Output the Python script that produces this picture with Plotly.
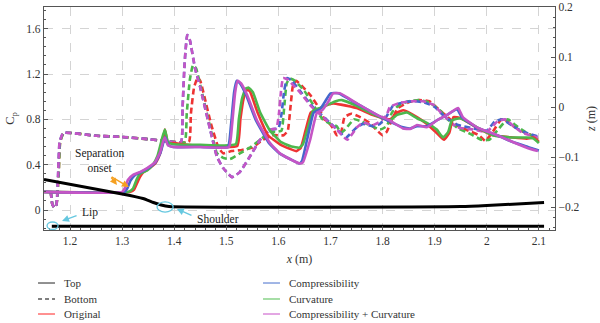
import plotly.graph_objects as go

# ---------------- data ----------------
# Cp distributions (left axis). Solid = top surface, dashed = bottom surface
orig_top_x = [1.150,1.316,1.323,1.329,1.334,1.340,1.353,1.365,1.373,1.378,1.382,1.388,1.398,1.45,1.521,1.527,1.533,1.539,1.545,1.560,1.580,1.603,1.622,1.635,1.643,1.652,1.662,1.672,1.690,1.705,1.720,1.75,1.78,1.814,1.828,1.840,1.866,1.885,1.904,1.918,1.928,1.936,1.95,1.98,2.012,2.05,2.077,2.09,2.10]
orig_top_y = [0.16,0.16,0.18,0.24,0.29,0.33,0.37,0.42,0.50,0.60,0.71,0.59,0.59,0.565,0.565,0.80,0.98,1.06,1.05,0.86,0.66,0.58,0.54,0.52,0.55,0.70,0.86,0.88,0.92,0.94,0.93,0.90,0.84,0.80,0.86,0.88,0.82,0.76,0.68,0.62,0.68,0.82,0.81,0.73,0.66,0.64,0.63,0.64,0.60]

curv_top_x = [1.150,1.312,1.321,1.328,1.334,1.348,1.359,1.368,1.376,1.382,1.388,1.398,1.45,1.518,1.524,1.530,1.537,1.543,1.551,1.565,1.584,1.605,1.625,1.640,1.647,1.657,1.667,1.680,1.695,1.710,1.722,1.75,1.78,1.814,1.828,1.847,1.866,1.885,1.904,1.916,1.926,1.933,1.949,1.981,2.012,2.050,2.077,2.090,2.100]
curv_top_y = [0.16,0.16,0.19,0.27,0.32,0.35,0.40,0.48,0.62,0.71,0.60,0.58,0.575,0.58,0.80,0.98,1.07,1.08,1.04,0.86,0.70,0.60,0.56,0.55,0.58,0.73,0.88,0.90,0.93,0.96,0.97,0.92,0.85,0.79,0.84,0.86,0.81,0.77,0.71,0.64,0.69,0.79,0.81,0.73,0.66,0.64,0.64,0.63,0.59]

comp_top_x = [1.150,1.305,1.310,1.316,1.325,1.336,1.350,1.364,1.374,1.380,1.383,1.389,1.398,1.45,1.503,1.509,1.515,1.520,1.526,1.538,1.557,1.582,1.602,1.622,1.640,1.645,1.655,1.668,1.680,1.690,1.700,1.715,1.75,1.789,1.814,1.839,1.853,1.866,1.885,1.904,1.924,1.943,1.952,1.98,2.02,2.05,2.08,2.10]
comp_top_y = [0.16,0.16,0.19,0.26,0.31,0.335,0.37,0.42,0.51,0.61,0.64,0.57,0.556,0.556,0.556,0.75,1.04,1.14,1.12,1.015,0.79,0.59,0.50,0.45,0.41,0.43,0.62,0.86,0.89,0.96,1.03,1.03,0.94,0.84,0.78,0.73,0.72,0.74,0.74,0.79,0.84,0.89,0.82,0.73,0.66,0.60,0.555,0.525]

cc_top_x = [1.150,1.300,1.306,1.311,1.321,1.334,1.348,1.363,1.373,1.379,1.382,1.388,1.398,1.45,1.505,1.511,1.517,1.522,1.528,1.540,1.559,1.584,1.603,1.622,1.641,1.647,1.661,1.674,1.684,1.695,1.705,1.718,1.751,1.789,1.814,1.839,1.853,1.866,1.885,1.904,1.924,1.945,1.954,1.981,2.020,2.050,2.077,2.098]
cc_top_y = [0.16,0.16,0.20,0.265,0.31,0.335,0.37,0.42,0.51,0.61,0.64,0.57,0.556,0.556,0.556,0.75,1.04,1.14,1.12,1.015,0.79,0.59,0.50,0.45,0.41,0.42,0.62,0.86,0.88,0.95,1.03,1.03,0.94,0.84,0.79,0.72,0.715,0.75,0.73,0.79,0.84,0.90,0.82,0.73,0.66,0.60,0.55,0.52]

orig_bot_x = [1.163,1.166,1.170,1.174,1.178,1.181,1.188,1.25,1.30,1.35,1.38,1.428,1.432,1.438,1.445,1.450,1.458,1.470,1.485,1.494,1.510,1.530,1.550,1.570,1.590,1.610,1.618,1.623,1.628,1.634,1.644,1.662,1.678,1.688,1.695,1.705,1.712,1.720,1.727,1.740,1.757,1.775,1.790,1.800,1.808,1.818,1.830,1.850,1.870,1.890,1.910,1.925,1.945,1.965,1.985,1.997,2.010,2.030,2.045,2.065,2.085,2.098]
orig_bot_y = [0.16,0.05,0.02,0.05,0.30,0.60,0.68,0.655,0.645,0.625,0.61,0.60,0.85,1.08,1.17,1.14,1.00,0.77,0.55,0.50,0.52,0.53,0.55,0.62,0.66,0.66,0.70,0.90,1.10,1.14,1.10,1.01,0.90,0.80,0.78,0.72,0.66,0.68,0.82,0.85,0.82,0.77,0.70,0.66,0.69,0.80,0.90,0.95,0.97,0.96,0.88,0.82,0.74,0.70,0.66,0.61,0.68,0.81,0.76,0.70,0.66,0.62]

curv_bot_x = [1.163,1.166,1.170,1.174,1.178,1.181,1.188,1.25,1.30,1.35,1.38,1.420,1.424,1.430,1.436,1.442,1.452,1.468,1.482,1.494,1.507,1.526,1.545,1.565,1.584,1.597,1.606,1.611,1.616,1.622,1.632,1.650,1.668,1.685,1.700,1.712,1.720,1.730,1.745,1.760,1.780,1.795,1.808,1.818,1.830,1.850,1.870,1.890,1.910,1.925,1.945,1.965,1.990,2.005,2.020,2.040,2.055,2.070,2.085,2.098]
curv_bot_y = [0.16,0.05,0.02,0.05,0.30,0.60,0.68,0.655,0.645,0.625,0.61,0.60,0.85,1.15,1.28,1.25,1.06,0.75,0.50,0.46,0.45,0.50,0.55,0.62,0.69,0.69,0.70,0.90,1.12,1.16,1.14,1.05,0.92,0.80,0.76,0.74,0.68,0.72,0.80,0.78,0.74,0.71,0.74,0.86,0.92,0.96,0.97,0.95,0.88,0.80,0.72,0.68,0.62,0.62,0.70,0.80,0.75,0.70,0.66,0.63]

comp_bot_x = [1.163,1.166,1.170,1.174,1.177,1.180,1.187,1.25,1.30,1.35,1.38,1.413,1.416,1.420,1.425,1.430,1.440,1.4495,1.469,1.482,1.494,1.511,1.526,1.545,1.565,1.584,1.600,1.606,1.611,1.617,1.626,1.645,1.668,1.690,1.715,1.730,1.748,1.762,1.782,1.795,1.808,1.820,1.840,1.860,1.880,1.900,1.920,1.945,1.975,2.000,2.015,2.030,2.050,2.070,2.098]
comp_bot_y = [0.16,0.05,0.02,0.05,0.30,0.60,0.68,0.655,0.645,0.625,0.61,0.60,0.90,1.30,1.545,1.50,1.25,1.09,0.71,0.47,0.37,0.29,0.335,0.47,0.62,0.71,0.72,0.85,1.05,1.165,1.14,1.03,0.90,0.81,0.70,0.64,0.72,0.76,0.74,0.76,0.83,0.92,0.95,0.96,0.95,0.91,0.82,0.75,0.72,0.70,0.78,0.80,0.74,0.69,0.65]

cc_bot_x = [1.163,1.166,1.170,1.174,1.177,1.180,1.187,1.25,1.30,1.35,1.38,1.413,1.416,1.420,1.425,1.430,1.440,1.4495,1.469,1.482,1.494,1.511,1.526,1.545,1.565,1.584,1.596,1.601,1.605,1.609,1.618,1.641,1.664,1.686,1.712,1.732,1.751,1.762,1.782,1.795,1.808,1.814,1.833,1.855,1.878,1.897,1.916,1.943,1.974,2.000,2.020,2.035,2.054,2.069,2.098]
cc_bot_y = [0.16,0.05,0.02,0.05,0.30,0.60,0.68,0.655,0.645,0.625,0.61,0.60,0.90,1.30,1.545,1.50,1.25,1.09,0.71,0.47,0.37,0.29,0.335,0.47,0.62,0.71,0.72,0.85,1.05,1.165,1.15,1.04,0.91,0.82,0.71,0.62,0.73,0.77,0.75,0.78,0.84,0.91,0.945,0.96,0.96,0.93,0.84,0.73,0.71,0.69,0.78,0.80,0.73,0.68,0.64]

# Geometry (right axis, z in m)
geom_top_x = [1.150,1.300,1.340,1.360,1.375,1.390,1.950,2.000,2.110]
geom_top_z = [-0.145,-0.174,-0.183,-0.191,-0.196,-0.199,-0.199,-0.197,-0.191]
geom_bot_x = [1.165,2.110]
geom_bot_z = [-0.2385,-0.2385]

x_ticks = [1.2,1.3,1.4,1.5,1.6,1.7,1.8,1.9,2.0,2.1]
x_ticklabels = ["1.2","1.3","1.4","1.5","1.6","1.7","1.8","1.9","2","2.1"]
cp_ticks = [0,0.4,0.8,1.2,1.6]
cp_ticklabels = ["0","0.4","0.8","1.2","1.6"]
z_ticks = [-0.2,-0.1,0,0.1,0.2]
z_ticklabels = ["\u22120.2","\u22120.1","0","0.1","0.2"]

legend_col1 = ["Top", "Bottom", "Original"]
legend_col2 = ["Compressibility", "Curvature", "Compressibility + Curvature"]

# ---------------- style ----------------
RED = "#ee3333"
GREEN = "#4cb84c"
BLUE = "#4466cc"
MAG = "#c555c5"
CYAN = "#66c8e0"
ORANGE = "#f5a020"
FONT = "Liberation Serif"
DASH = "6px,3.5px"
LW = 2.6

fig = go.Figure()

series = [
    (orig_bot_x, orig_bot_y, RED, DASH),
    (curv_bot_x, curv_bot_y, GREEN, DASH),
    (comp_bot_x, comp_bot_y, BLUE, DASH),
    (cc_bot_x, cc_bot_y, MAG, DASH),
    (orig_top_x, orig_top_y, RED, "solid"),
    (curv_top_x, curv_top_y, GREEN, "solid"),
    (comp_top_x, comp_top_y, BLUE, "solid"),
    (cc_top_x, cc_top_y, MAG, "solid"),
]
for xs, ys, col, dash in series:
    fig.add_trace(go.Scatter(x=xs, y=ys, mode="lines", showlegend=False,
                             line=dict(color=col, width=LW, dash=dash, shape="spline", smoothing=0.4),
                             hoverinfo="skip"))

fig.add_trace(go.Scatter(x=geom_top_x, y=geom_top_z, yaxis="y2", mode="lines", showlegend=False,
                         line=dict(color="black", width=3, shape="spline", smoothing=0.5)))
fig.add_trace(go.Scatter(x=geom_bot_x, y=geom_bot_z, yaxis="y2", mode="lines", showlegend=False,
                         line=dict(color="black", width=3)))

axis_font = dict(family=FONT, size=11.5, color="#333333")

fig.update_layout(
    width=600, height=323, autosize=False,
    margin=dict(l=44, r=45, t=7, b=93, autoexpand=False),
    paper_bgcolor="white", plot_bgcolor="white",
    font=dict(family=FONT, color="#333333"),
    showlegend=False,
    xaxis=dict(range=[1.15, 2.131], tickvals=x_ticks, ticktext=x_ticklabels, automargin=False,
               ticks="inside", ticklen=4, tickcolor="#555", tickfont=axis_font,
               showline=True, linecolor="#555", linewidth=1.2, mirror=True,
               showgrid=True, gridcolor="#d4d4d4", griddash="dash", gridwidth=1, zeroline=False,
               minor=dict(dtick=0.02, tick0=1.2, ticks="inside", ticklen=2, tickcolor="#555", showgrid=False),
               title=dict(text="<i>x</i> (m)", font=dict(family=FONT, size=12, color="#333"), standoff=8)),
    yaxis=dict(range=[-0.1765, 1.7917], tickvals=cp_ticks, ticktext=cp_ticklabels, automargin=False,
               ticks="inside", ticklen=4, tickcolor="#555", tickfont=axis_font,
               showline=True, linecolor="#555", linewidth=1.2, mirror=True,
               showgrid=True, gridcolor="#d4d4d4", griddash="dash", gridwidth=1, zeroline=False,
               minor=dict(dtick=0.08, tick0=0, ticks="inside", ticklen=2, tickcolor="#555", showgrid=False),
               title=dict(text="C<sub>p</sub>", font=dict(family=FONT, size=12.5, color="#333"), standoff=8)),
    yaxis2=dict(range=[-0.246, 0.2], overlaying="y", side="right", tickvals=z_ticks, ticktext=z_ticklabels,
                automargin=False,
                ticks="inside", ticklen=4, tickcolor="#555", tickfont=axis_font,
                showline=True, linecolor="#555", linewidth=1.2, showgrid=False, zeroline=False,
                minor=dict(dtick=0.02, tick0=0, ticks="inside", ticklen=2, tickcolor="#555", showgrid=False),
                title=dict(text="<i>z</i> (m)", font=dict(family=FONT, size=12, color="#333"), standoff=8)),
)

# annotations
tfont = dict(family=FONT, size=11.5, color="#222222")
fig.add_annotation(x=1.2557, y=0.441, xref="x", yref="y", text="Separation<br>onset",
                   showarrow=False, font=tfont, align="center")
for hx, hy in [(1.290, 0.22), (1.313, 0.203)]:
    fig.add_annotation(x=hx, y=hy, ax=1.277, ay=0.30, xref="x", yref="y", axref="x", ayref="y",
                       text="", showarrow=True, arrowhead=2, arrowsize=1, arrowwidth=1.4, arrowcolor=ORANGE)
fig.add_annotation(x=1.219, y=-0.026, xref="x", yref="y", text="Lip", showarrow=False,
                   font=tfont, xanchor="left")
fig.add_annotation(x=1.1846, y=-0.097, ax=1.2154, ay=-0.044, xref="x", yref="y", axref="x", ayref="y",
                   text="", showarrow=True, arrowhead=2, arrowsize=1, arrowwidth=1.4, arrowcolor=CYAN)
fig.add_annotation(x=1.440, y=-0.075, xref="x", yref="y", text="Shoulder", showarrow=False,
                   font=tfont, xanchor="left")
fig.add_annotation(x=1.405, y=0.009, ax=1.436, ay=-0.053, xref="x", yref="y", axref="x", ayref="y",
                   text="", showarrow=True, arrowhead=2, arrowsize=1, arrowwidth=1.4, arrowcolor=CYAN)
fig.add_shape(type="circle", xref="x", yref="y", x0=1.1559, x1=1.177, y0=-0.172, y1=-0.106,
              line=dict(color=CYAN, width=1.3))
fig.add_shape(type="circle", xref="x", yref="y", x0=1.367, x1=1.398, y0=-0.018, y1=0.071,
              line=dict(color=CYAN, width=1.3))

# manual two-column legend (paper coordinates)
leg_font = dict(family=FONT, size=11, color="#333333")
row_y = [-0.2377, -0.3094, -0.3767]
col1_style = [("#555555", "solid"), ("#555555", "4px,3px"), ("#ff5555", "solid")]
col2_style = [("#6f8fd8", "solid"), ("#77cc77", "solid"), ("#d477d4", "solid")]
for (x0, x1, xt), names, styles in [((-0.0117, 0.0215, 0.0352), legend_col1, col1_style),
                                     ((0.4286, 0.4618, 0.4755), legend_col2, col2_style)]:
    for yy, name, (col, dash) in zip(row_y, names, styles):
        fig.add_shape(type="line", xref="paper", yref="paper", x0=x0, x1=x1, y0=yy, y1=yy,
                      line=dict(color=col, width=1.3, dash=dash))
        fig.add_annotation(x=xt, y=yy, xref="paper", yref="paper", text=name, showarrow=False,
                           xanchor="left", yanchor="middle", font=leg_font)

fig.write_html("out.html")
